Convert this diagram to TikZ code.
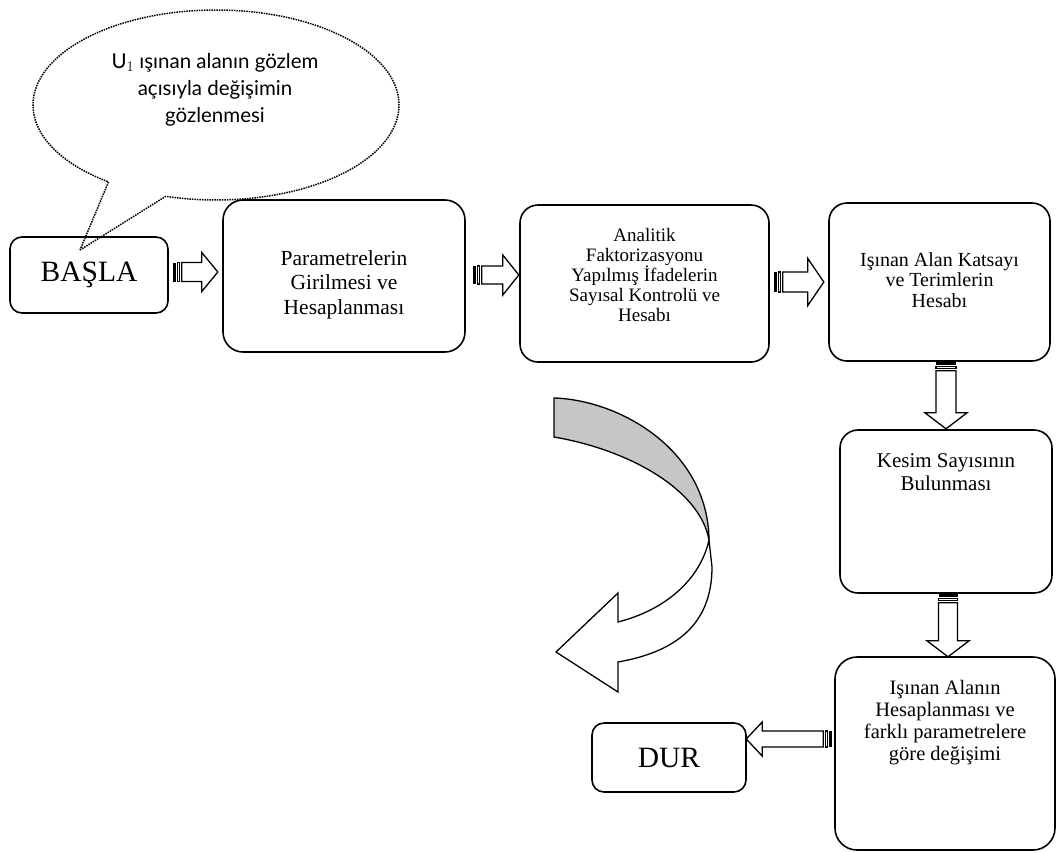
\documentclass[tikz,border=0pt]{standalone}
\usepackage{fontspec}
\setmainfont{Liberation Serif}
\newfontfamily\bubblefont{Lato}
\usetikzlibrary{positioning,shapes.geometric,shapes.callouts,calc}

% striped block arrow: tail, angle, length, head half width, stem half width
\newcommand{\striparrow}[5]{%
  \begin{scope}[shift={#1}, rotate=#2]
    \fill[black] (0,-#5) rectangle (3,#5);
    \draw[blockline] (5,-#5) rectangle (7,#5);
    \draw[blockline] (9,-#5) -- (#3-16,-#5) -- (#3-16,-#4) -- (#3,0)
      -- (#3-16,#4) -- (#3-16,#5) -- (9,#5) -- cycle;
  \end{scope}}

\begin{document}
\begin{tikzpicture}[
    x=1pt, y=-1pt,
    box/.style={draw, line width=1.6pt, rounded corners=18pt, inner sep=3pt},
    endbox/.style={box, rounded corners=12pt, font=\fontsize{29.5}{32}\selectfont},
    boxtext/.style={align=center, inner sep=3pt},
    blockline/.style={line width=1.3pt, fill=white, line join=miter},
    bubble/.style={ellipse callout, draw, densely dotted, line width=1.5pt},
    bubbletext/.style={align=center, font=\bubblefont\fontsize{20.5}{27}\selectfont}
]
\useasboundingbox (0,0) rectangle (1059,852);

% start / stop
\node[endbox, minimum width=158pt, minimum height=76pt] (basla) at (89,275) {BAŞLA};
\node[endbox, minimum width=154pt, minimum height=69pt] (dur) at (669,757.5) {DUR};

% comment bubble
\node[bubble, minimum width=366pt, minimum height=190pt,
      callout absolute pointer={(80,250)}, callout pointer arc=20] (note) at (216,105) {};
\node[bubbletext] (notetxt) at (215,90) {U$_1$ ışınan alanın gözlem\\açısıyla değişimin\\gözlenmesi};

% top row
\node[box, rounded corners=20pt, minimum width=242pt, minimum height=152pt] (param) at (344,276) {};
\node[boxtext, font=\fontsize{21.5}{24.5}\selectfont, below=48pt of param.north] (paramtxt)
      {Parametrelerin\\Girilmesi ve\\Hesaplanması};
\node[box, minimum width=249pt, minimum height=157pt] (anal) at (644.5,283.5) {};
\node[boxtext, font=\fontsize{19}{20}\selectfont, below=21pt of anal.north] (analtxt)
      {Analitik\\Faktorizasyonu\\Yapılmış İfadelerin\\Sayısal Kontrolü ve\\Hesabı};
\node[box, minimum width=221pt, minimum height=158pt] (isinan) at (939.5,282) {};
\node[boxtext, font=\fontsize{20}{20.5}\selectfont, below=47pt of isinan.north] (isinantxt)
      {Işınan Alan Katsayı\\ve Terimlerin\\Hesabı};

% right column
\node[box, minimum width=212pt, minimum height=163pt] (kesim) at (946,511.5) {};
\node[boxtext, font=\fontsize{21}{23}\selectfont, below=21pt of kesim.north] (kesimtxt)
      {Kesim Sayısının\\Bulunması};
\node[box, rounded corners=22pt, minimum width=220pt, minimum height=193pt] (alan) at (945,753.5) {};
\node[boxtext, font=\fontsize{20.5}{22}\selectfont, below=21pt of alan.north] (alantxt)
      {Işınan Alanın\\Hesaplanması ve\\farklı parametrelere\\göre değişimi};

% block arrows between the boxes
\coordinate (a1) at ([xshift=4pt, yshift=3pt]basla.east);
\coordinate (a2) at ([xshift=7pt, yshift=1pt]param.east);
\coordinate (a3) at ([xshift=4pt, yshift=1.5pt]anal.east);
\coordinate (a4) at ([xshift=6.5pt]isinan.south);
\coordinate (a5) at ([xshift=2pt]kesim.south);
\coordinate (a6) at ([xshift=-2pt, yshift=14.5pt]alan.west);
\striparrow{(a1)}{0}{45}{19.5}{9.5}
\striparrow{(a2)}{0}{46}{20}{9}
\striparrow{(a3)}{0}{50}{23.5}{10}
\striparrow{(a4)}{-90}{67}{21}{10}
\striparrow{(a5)}{-90}{63}{21}{9.5}
\striparrow{(a6)}{180}{86}{17}{8}

% curved arrow, shaded back side
\draw[blockline, fill=gray!45] (554,398) .. controls (620,400) and (708,450) .. (709,540)
  .. controls (700,490) and (630,450) .. (554,437) -- cycle;
\draw[blockline] (709,540) -- (712,567) .. controls (712,625) and (675,652) .. (618,662)
  -- (618,692) -- (556,652) -- (618,593) -- (618,622)
  .. controls (665,610) and (700,580) .. (709,540) -- cycle;

\end{tikzpicture}
\end{document}
